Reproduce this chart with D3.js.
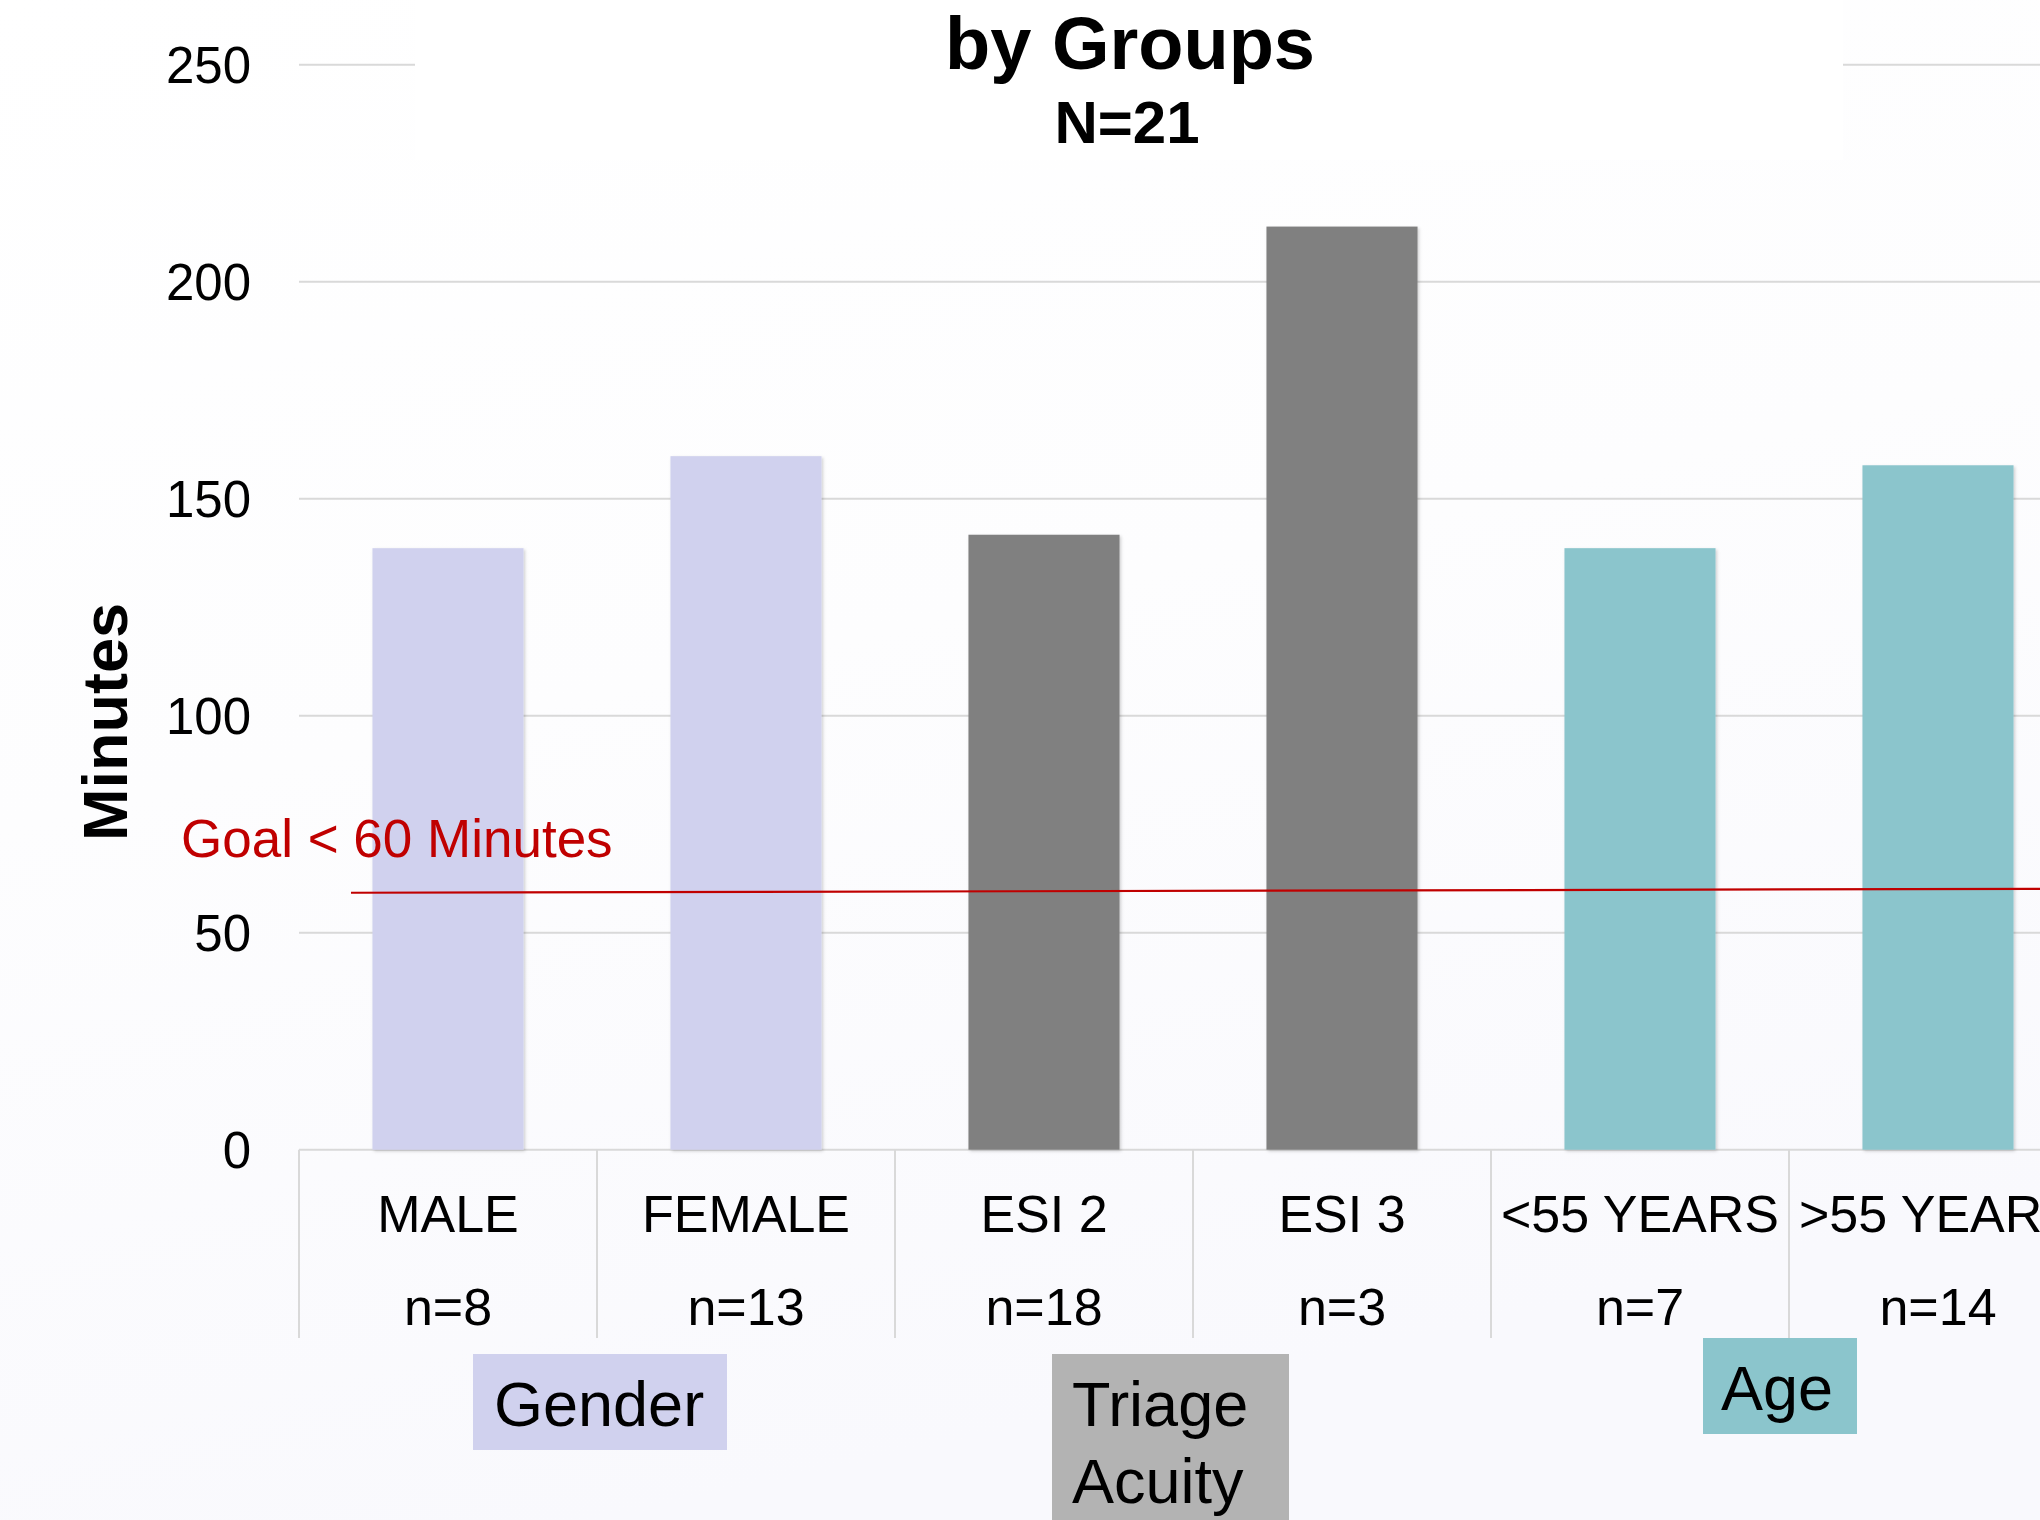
<!DOCTYPE html>
<html><head><meta charset="utf-8">
<script src="https://cdn.jsdelivr.net/npm/d3@7"></script>
<style>
html,body{margin:0;padding:0;background:#fdfdfe;overflow:hidden;}
svg{display:block;font-family:"Liberation Sans",Arial,sans-serif;}
</style></head><body>
<svg id="c" width="2040" height="1520"></svg>
<script>
const categories = ["MALE","FEMALE","ESI 2","ESI 3","<55 YEARS",">55 YEARS"];
const counts = ["n=8","n=13","n=18","n=3","n=7","n=14"];
const values = [138.6,159.8,141.7,212.7,138.6,157.7];
const groupOf = ["Gender","Gender","Triage","Triage","Age","Age"];
const groupNames = ["Gender","Triage","Age"];
const groupLabels = [["Gender"],["Triage","Acuity"],["Age"]];
const groupColors = ["#d0d1ee","#b3b3b3","#8bc5cc"];
const barColors = ["#d0d1ee","#d0d1ee","#808080","#808080","#8bc5cc","#8bc5cc"];
const yTicks = [0,50,100,150,200,250];
const goal = {start:59.2, end:60.1, label:"Goal < 60 Minutes"};
const titleLines = ["by Groups","N=21"];
const yTitle = "Minutes";

const svg = d3.select("#c");
const x0 = 299, step = 298;
const x = d3.scaleBand().domain(categories).range([x0, x0 + step*categories.length]).paddingInner(0.493).paddingOuter(0.2465);
const y = d3.scaleLinear().domain([0,250]).range([1149.7, 64.7]);

const defs = svg.append("defs");
const f = defs.append("filter").attr("id","sh").attr("x","-10%").attr("y","-5%").attr("width","120%").attr("height","110%");
f.append("feDropShadow").attr("dx",1.5).attr("dy",1.5).attr("stdDeviation",1.5).attr("flood-color","#000").attr("flood-opacity",0.18);
const lg = defs.append("linearGradient").attr("id","bg").attr("x1","0").attr("y1","0").attr("x2","0.3").attr("y2","1");
lg.append("stop").attr("offset","0").attr("stop-color","#ffffff");
lg.append("stop").attr("offset","0.5").attr("stop-color","#fdfdfe");
lg.append("stop").attr("offset","1").attr("stop-color","#f9f9fd");

// background
svg.append("rect").attr("width",2040).attr("height",1520).attr("fill","url(#bg)");

// gridlines
svg.append("g").selectAll("line").data(yTicks).join("line")
  .attr("x1",x0).attr("x2",2040)
  .attr("y1",d=>y(d)).attr("y2",d=>y(d))
  .attr("stroke","#d9d9d9").attr("stroke-width",2);

// title white box
svg.append("rect").attr("x",415).attr("y",0).attr("width",1428).attr("height",160).attr("fill","#ffffff");

// y tick labels
svg.append("g").selectAll("text").data(yTicks).join("text")
  .attr("x",251).attr("y",d=>y(d)).attr("dy","0.36em")
  .attr("text-anchor","end").attr("font-size",51).attr("fill","#000")
  .text(d=>d);

// bars
svg.append("g").selectAll("rect").data(values).join("rect")
  .attr("x",(d,i)=>x(categories[i])).attr("width",x.bandwidth())
  .attr("y",d=>y(d)).attr("height",d=>y(0)-y(d))
  .attr("fill",(d,i)=>barColors[i]).attr("filter","url(#sh)");

// category separators
svg.append("g").selectAll("line").data(d3.range(categories.length+1)).join("line")
  .attr("x1",i=>x0+i*step).attr("x2",i=>x0+i*step)
  .attr("y1",y(0)).attr("y2",1338)
  .attr("stroke","#d9d9d9").attr("stroke-width",2);

// category labels
const cx = c => x(c) + x.bandwidth()/2;
svg.append("g").selectAll("text").data(categories).join("text")
  .attr("x",d=>cx(d)).attr("y",1232).attr("text-anchor","middle")
  .attr("font-size",52).attr("fill","#000").text(d=>d);
svg.append("g").selectAll("text").data(counts).join("text")
  .attr("x",(d,i)=>cx(categories[i])).attr("y",1325).attr("text-anchor","middle")
  .attr("font-size",52).attr("fill","#000").text(d=>d);

// goal line
svg.append("line").attr("x1",351).attr("x2",2040)
  .attr("y1",y(goal.start)).attr("y2",y(goal.end))
  .attr("stroke","#c00000").attr("stroke-width",2.2);
svg.append("text").attr("x",181).attr("y",857).attr("font-size",53).attr("fill","#c00000").text(goal.label);

// group label boxes
const boxes = [
  {x:473, y:1354, w:254, h:96, tx:494, ty:1426},
  {x:1052, y:1354, w:237, h:180, tx:1072, ty:1426},
  {x:1703, y:1338, w:154, h:96, tx:1721, ty:1410}
];
groupNames.forEach((g,i)=>{
  const b = boxes[i];
  svg.append("rect").attr("x",b.x).attr("y",b.y).attr("width",b.w).attr("height",b.h).attr("fill",groupColors[i]);
  groupLabels[i].forEach((t,j)=>{
    svg.append("text").attr("x",b.tx).attr("y",b.ty + j*77).attr("font-size",63).attr("fill","#000").text(t);
  });
});

// title
svg.append("text").attr("x",1130).attr("y",69).attr("text-anchor","middle")
  .attr("font-size",74).attr("font-weight","bold").attr("fill","#000").text(titleLines[0]);
svg.append("text").attr("x",1127).attr("y",143).attr("text-anchor","middle")
  .attr("font-size",60).attr("font-weight","bold").attr("fill","#000").text(titleLines[1]);

// y axis title
svg.append("text").attr("transform","translate(127,722) rotate(-90)")
  .attr("text-anchor","middle").attr("font-size",63).attr("font-weight","bold").attr("fill","#000").text(yTitle);
</script>
</body></html>
